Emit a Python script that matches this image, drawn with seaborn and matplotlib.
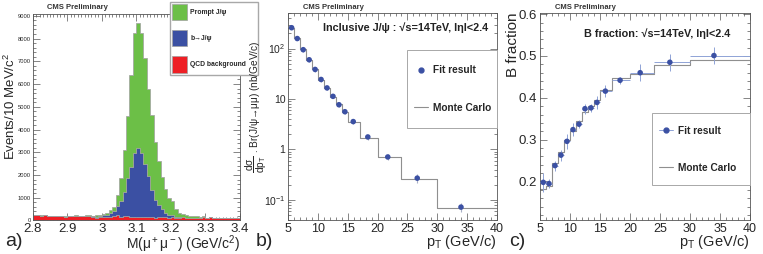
import numpy as np
import pandas as pd
import matplotlib
matplotlib.use("Agg")
import matplotlib.pyplot as plt
from matplotlib.patches import Patch, Rectangle
from matplotlib.lines import Line2D
from matplotlib.ticker import MultipleLocator, FixedLocator, FuncFormatter, LogLocator, NullFormatter
import seaborn as sns

# ---- a) dimuon mass, 10 MeV bins from 2.80 to 3.40 ----
mass_start = 2.80
mass_step = 0.01
qcd = [230, 250, 210, 220, 190, 200, 180, 190, 200, 170,
       180, 190, 210, 180, 200, 210, 190, 170, 120, 140,
       160, 150, 170, 180, 230, 150, 190, 210, 170, 160,
       150, 170, 140, 160, 150, 130, 140, 170, 150, 130,
       140, 120, 130, 140, 120, 110, 130, 100, 110, 140,
       90, 140, 100, 90, 110, 100, 90, 100, 110, 90]
nonprompt = [0, 0, 0, 0, 0, 0, 0, 0, 0, 0,
             0, 0, 0, 0, 0, 5, 10, 15, 20, 40,
             60, 90, 150, 250, 400, 700, 1050, 1650, 2200, 2800,
             3050, 2800, 2350, 1780, 1200, 780, 560, 320, 200, 120,
             80, 50, 30, 20, 10, 5, 0, 0, 0, 0,
             0, 0, 0, 0, 0, 0, 0, 0, 0, 0]
prompt = [20, 10, 15, 20, 10, 15, 20, 10, 15, 20,
          10, 15, 10, 20, 15, 20, 25, 30, 80, 70,
          80, 100, 120, 170, 470, 1000, 1840, 2740, 4030, 5300,
          5500, 5290, 4640, 3860, 3280, 2540, 1900, 1410, 1050, 750,
          630, 350, 160, 120, 100, 85, 60, 80, 60, 40,
          30, 20, 30, 20, 15, 20, 10, 15, 10, 15]
components = ["Prompt J/ψ", "b→J/ψ", "QCD background"]
comp_colors = ["#6cbf47", "#3b50a3", "#ee1f25"]

# ---- b) / c) pT bins ----
pt_edges = [5, 6, 7, 8, 9, 10, 11, 12, 13, 14, 15, 17, 20, 24, 30, 40]
pt_mean = [5.55, 6.5, 7.5, 8.5, 9.5, 10.5, 11.5, 12.5, 13.5, 14.5, 15.9, 18.35, 21.7, 26.65, 34.0]
xsec_fit = [259, 158, 95, 60, 38.6, 24.4, 16.6, 11.3, 7.7, 5.6, 3.57, 1.77, 0.71, 0.27, 0.072]
xsec_err = [20, 12, 8, 5, 3.5, 2.2, 1.5, 1.0, 0.7, 0.5, 0.4, 0.2, 0.1, 0.05, 0.015]
xsec_mc = [255, 160, 98, 60, 39, 24, 16.5, 11.2, 7.8, 5.5, 3.55, 1.72, 0.70, 0.26, 0.070]
bfrac_fit = [0.198, 0.195, 0.238, 0.263, 0.296, 0.324, 0.337, 0.374, 0.376, 0.389, 0.416, 0.442, 0.460, 0.485, 0.501]
bfrac_err = [0.022, 0.010, 0.012, 0.013, 0.018, 0.015, 0.010, 0.012, 0.010, 0.015, 0.015, 0.008, 0.020, 0.020, 0.020]
bfrac_mc = [0.182, 0.190, 0.245, 0.270, 0.300, 0.320, 0.345, 0.365, 0.380, 0.395, 0.418, 0.448, 0.458, 0.479, 0.491]

sns.set_style("ticks")
plt.rcParams["font.family"] = ["Liberation Sans", "DejaVu Sans"]
plt.rcParams["mathtext.fontset"] = "custom"
plt.rcParams["mathtext.rm"] = "Liberation Sans"
plt.rcParams["mathtext.it"] = "Liberation Sans:italic"
plt.rcParams["mathtext.bf"] = "Liberation Sans:bold"
plt.rcParams["mathtext.default"] = "regular"
plt.rcParams["axes.edgecolor"] = "#555555"
plt.rcParams["axes.linewidth"] = 0.6

fig = plt.figure(figsize=(7.63, 2.54), dpi=100)
ax_a = fig.add_axes([0.0429, 0.1319, 0.2717, 0.813])
ax_b = fig.add_axes([0.3779, 0.1339, 0.2731, 0.8137])
ax_c = fig.add_axes([0.7077, 0.1339, 0.2752, 0.8137])

blue = "#3b50a3"
err_grey = "#a9b0c6"
err_blue = "#8fa3d6"
mc_grey = "#8f8f8f"
box_grey = "#a8a8a8"


def root_ticks(ax, xmaj, xmin):
    ax.tick_params(which="both", direction="in", top=True, right=True,
                   color="#555555", width=0.5)
    ax.tick_params(which="major", length=5)
    ax.tick_params(which="minor", length=2.5)
    ax.xaxis.set_major_locator(MultipleLocator(xmaj))
    ax.xaxis.set_minor_locator(MultipleLocator(xmin))


def boxed_legend(ax, handles, labels, box):
    x0, y0, w, h = box
    ax.add_patch(Rectangle((x0, y0), w, h, transform=ax.transAxes, facecolor="white",
                           edgecolor=box_grey, linewidth=0.7, zorder=5, clip_on=False))
    leg = ax.legend(handles, labels, bbox_to_anchor=(x0 + 0.01, y0, w, h), loc="center left",
                    prop={"size": 7.3, "weight": "bold"}, labelspacing=2.7,
                    handlelength=1.4, handletextpad=0.5, borderpad=0, frameon=False)
    leg.set_zorder(6)


# ---- panel a ----
nbins = len(qcd)
edges = [round(mass_start + mass_step * i, 3) for i in range(nbins + 1)]
centers = [e + mass_step / 2 for e in edges[:-1]]
df_a = pd.DataFrame({
    "mass": centers * 3,
    "events": prompt + nonprompt + qcd,
    "component": [c for c in components for _ in range(nbins)],
})
sns.histplot(data=df_a, x="mass", weights="events", hue="component",
             hue_order=components, palette=comp_colors, multiple="stack",
             bins=edges, element="step", fill=True, alpha=1,
             linewidth=0.5, edgecolor="#a0a0a0", legend=False, ax=ax_a)
ax_a.set_xlim(2.8, 3.4)
ax_a.set_ylim(0, 9080)
root_ticks(ax_a, 0.1, 0.01)
ax_a.yaxis.set_major_locator(MultipleLocator(1000))
ax_a.yaxis.set_minor_locator(MultipleLocator(200))
ax_a.xaxis.set_major_formatter(FuncFormatter(lambda v, p: f"{v:g}"))
ax_a.tick_params(axis="x", labelsize=9.5, pad=2)
ax_a.tick_params(axis="y", labelsize=4.2, pad=1.2)
ax_a.set_xlabel("M(μ$^+$μ$^-$) (GeV/c$^2$)", fontsize=10, loc="right", labelpad=-1)
ax_a.set_ylabel("Events/10 MeV/c$^2$", fontsize=9.5)
ax_a.yaxis.set_label_coords(-0.069, 0.55)
ax_a.text(0.07, 1.03, "CMS Preliminary", transform=ax_a.transAxes,
          fontsize=5.5, fontweight="bold", va="center", color="#333333")
handles_a = [Patch(facecolor=c, edgecolor="#a0a0a0", linewidth=0.5) for c in comp_colors]
ax_a.legend(handles_a, components, bbox_to_anchor=(0.2228, 0.614, 0.1153, 0.378),
            bbox_transform=fig.transFigure, loc="upper left", mode="expand",
            prop={"size": 4.9, "weight": "bold"}, handlelength=2.2, handleheight=3.3,
            labelspacing=1.45, borderpad=0.3, borderaxespad=0, handletextpad=0.5,
            fancybox=False, framealpha=1, edgecolor=box_grey)

# ---- panel b ----
mc_b = pd.DataFrame({"pt": pt_edges, "val": xsec_mc + [xsec_mc[-1]]})
sns.lineplot(data=mc_b, x="pt", y="val", drawstyle="steps-post", color=mc_grey,
             linewidth=0.8, estimator=None, ax=ax_b)
ax_b.errorbar(pt_mean, xsec_fit, yerr=xsec_err, fmt="none", ecolor=err_grey,
              elinewidth=0.8, capsize=0, zorder=3)
sns.scatterplot(x=pt_mean, y=xsec_fit, color=blue, s=16, edgecolor="none",
                zorder=4, ax=ax_b)
ax_b.set_yscale("log")
ax_b.set_xlim(5, 40)
ax_b.set_ylim(0.04, 500)
root_ticks(ax_b, 5, 1)
ax_b.yaxis.set_major_locator(FixedLocator([0.1, 1, 10, 100]))
ax_b.yaxis.set_major_formatter(FuncFormatter(
    lambda v, p: {0.1: "10$^{-1}$", 1: "1", 10: "10", 100: "10$^2$"}.get(round(v, 3), "")))
ax_b.yaxis.set_minor_locator(LogLocator(base=10, subs=np.arange(2, 10)))
ax_b.yaxis.set_minor_formatter(NullFormatter())
ax_b.tick_params(axis="x", labelsize=9, pad=2)
ax_b.tick_params(axis="y", labelsize=7.5, pad=2)
ax_b.set_xlabel("p$_T$ (GeV/c)", fontsize=10.5, loc="right", labelpad=-1)
ax_b.set_ylabel(r"$\dfrac{d\sigma}{dp_T}$ . Br(J/ψ→μμ) (nb/GeV/c)", fontsize=7.3)
ax_b.yaxis.set_label_coords(-0.095, 0.55)
ax_b.text(0.07, 1.03, "CMS Preliminary", transform=ax_b.transAxes,
          fontsize=5.5, fontweight="bold", va="center", color="#333333")
ax_b.text(0.96, 0.93, "Inclusive J/ψ : √s=14TeV, IηI<2.4", transform=ax_b.transAxes,
          fontsize=7.8, fontweight="bold", ha="right", va="center", color="#222222")
handles_b = [Line2D([], [], color=blue, marker="o", markersize=3.5, linestyle="none"),
             Line2D([], [], color=mc_grey, linewidth=0.8)]
boxed_legend(ax_b, handles_b, ["Fit result", "Monte Carlo"], (0.568, 0.445, 0.432, 0.377))

# ---- panel c ----
lo = np.array(pt_edges[:-1])
hi = np.array(pt_edges[1:])
mc_c = pd.DataFrame({"pt": pt_edges, "val": bfrac_mc + [bfrac_mc[-1]]})
sns.lineplot(data=mc_c, x="pt", y="val", drawstyle="steps-post", color=mc_grey,
             linewidth=0.8, estimator=None, ax=ax_c)
ax_c.errorbar(pt_mean, bfrac_fit, yerr=bfrac_err,
              xerr=[np.array(pt_mean) - lo, hi - np.array(pt_mean)],
              fmt="none", ecolor=err_blue, elinewidth=0.7, capsize=0, zorder=3)
sns.scatterplot(x=pt_mean, y=bfrac_fit, color=blue, s=16, edgecolor="none",
                zorder=4, ax=ax_c)
ax_c.set_xlim(5, 40)
ax_c.set_ylim(0.108, 0.602)
root_ticks(ax_c, 5, 1)
ax_c.yaxis.set_major_locator(MultipleLocator(0.1))
ax_c.yaxis.set_minor_locator(MultipleLocator(0.02))
ax_c.tick_params(axis="x", labelsize=9, pad=2)
ax_c.tick_params(axis="y", labelsize=9.5, pad=2)
ax_c.set_xlabel("p$_T$ (GeV/c)", fontsize=10.5, loc="right", labelpad=-1)
ax_c.set_ylabel("B fraction", fontsize=11)
ax_c.yaxis.set_label_coords(-0.095, 0.85)
ax_c.text(0.07, 1.03, "CMS Preliminary", transform=ax_c.transAxes,
          fontsize=5.5, fontweight="bold", va="center", color="#333333")
ax_c.text(0.905, 0.9, "B fraction: √s=14TeV, IηI<2.4", transform=ax_c.transAxes,
          fontsize=7.8, fontweight="bold", ha="right", va="center", color="#222222")
handles_c = [Line2D([], [], color=err_blue, marker="o", markersize=3.5, linewidth=0.7,
                    markerfacecolor=blue, markeredgecolor=blue),
             Line2D([], [], color=mc_grey, linewidth=0.8)]
boxed_legend(ax_c, handles_c, ["Fit result", "Monte Carlo"], (0.532, 0.169, 0.468, 0.347))

for ax in (ax_a, ax_b, ax_c):
    for s in ax.spines.values():
        s.set_visible(True)

fig.text(5 / 763, 1 - 241 / 254, "a)", fontsize=14, va="center")
fig.text(256 / 763, 1 - 241 / 254, "b)", fontsize=14, va="center")
fig.text(509 / 763, 1 - 241 / 254, "c)", fontsize=14, va="center")

fig.savefig("out.png", dpi=100)
